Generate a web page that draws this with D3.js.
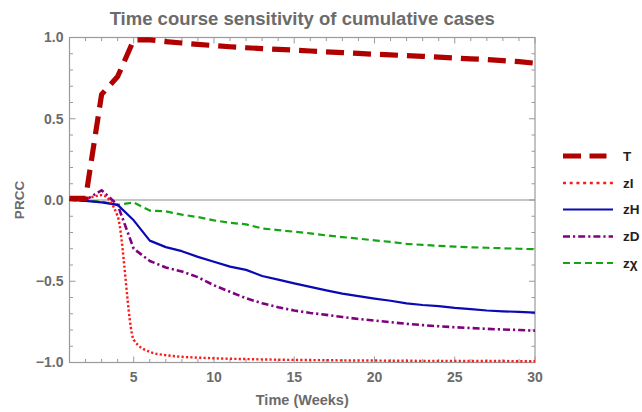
<!DOCTYPE html>
<html>
<head>
<meta charset="utf-8">
<script src="https://cdn.jsdelivr.net/npm/d3@7"></script>
<style>
  html, body { margin: 0; padding: 0; background: #fff; }
  svg { display: block; font-family: "Liberation Sans", Arial, sans-serif; }
</style>
</head>
<body>
<svg id="chart" width="642" height="412"></svg>
<script>
// Weeks 1..30
const weeks = d3.range(1, 31);

// PRCC values per parameter, one per week
const seriesT  = [0.01, 0.01, 0.65, 0.76, 0.985, 0.985, 0.975, 0.966, 0.958, 0.95, 0.943, 0.937, 0.932, 0.927, 0.922, 0.917, 0.912, 0.907, 0.902, 0.897, 0.893, 0.888, 0.884, 0.879, 0.874, 0.869, 0.864, 0.858, 0.851, 0.842];
const seriesZI = [0.01, 0.01, 0.03, -0.1, -0.86, -0.935, -0.955, -0.965, -0.97, -0.974, -0.977, -0.979, -0.981, -0.983, -0.984, -0.985, -0.986, -0.987, -0.988, -0.988, -0.989, -0.989, -0.99, -0.99, -0.99, -0.991, -0.991, -0.991, -0.992, -0.992];
const seriesZH = [0, -0.005, -0.015, -0.03, -0.125, -0.25, -0.29, -0.315, -0.35, -0.38, -0.41, -0.43, -0.468, -0.49, -0.513, -0.535, -0.556, -0.576, -0.592, -0.607, -0.62, -0.636, -0.646, -0.653, -0.664, -0.672, -0.68, -0.685, -0.689, -0.693];
const seriesZD = [0, 0, 0.06, -0.03, -0.3, -0.375, -0.415, -0.44, -0.475, -0.525, -0.565, -0.605, -0.635, -0.66, -0.68, -0.695, -0.707, -0.72, -0.732, -0.742, -0.752, -0.762, -0.77, -0.777, -0.783, -0.788, -0.793, -0.797, -0.8, -0.804];
const seriesZX = [0, -0.005, -0.01, -0.03, -0.015, -0.065, -0.07, -0.09, -0.105, -0.125, -0.14, -0.15, -0.175, -0.185, -0.195, -0.205, -0.218, -0.228, -0.238, -0.248, -0.258, -0.27, -0.276, -0.282, -0.287, -0.291, -0.294, -0.297, -0.3, -0.303];

const seriesNames = ["T", "zI", "zH", "zD", "z\u03c7"];
const xTicks = [5, 10, 15, 20, 25, 30];
const yTicks = [-1, -0.5, 0, 0.5, 1];

const styles = [
  { color: "#b00000", width: 5.2, dash: "18,9",        legendDash: "18,8.5", curve: d3.curveLinear },
  { color: "#ff1a1a", width: 2.4, dash: "2.2,2.2",      legendDash: "3,3.7",  curve: d3.curveMonotoneX },
  { color: "#0a0ab4", width: 2.2, dash: null,           legendDash: null,     curve: d3.curveLinear },
  { color: "#800080", width: 2.6, dash: "7,3,2.2,3",    legendDash: "7,3,2.2,3", curve: d3.curveLinear },
  { color: "#14a514", width: 2.2, dash: "7,4",          legendDash: "7,4",    curve: d3.curveLinear }
];
const allSeries = [seriesT, seriesZI, seriesZH, seriesZD, seriesZX];

const svg = d3.select("#chart");
const plotLeft = 69.5, plotRight = 535, plotTop = 37.5, plotBottom = 362.5;

const x = d3.scaleLinear().domain([1, 30]).range([plotLeft, plotRight]);
const y = d3.scaleLinear().domain([-1, 1]).range([plotBottom, plotTop]);

const frameColor = "#9a9a9a";
const textGray = "#6b6b6b";

// plot frame
svg.append("rect")
  .attr("x", plotLeft).attr("y", plotTop)
  .attr("width", plotRight - plotLeft).attr("height", plotBottom - plotTop)
  .attr("fill", "none").attr("stroke", frameColor).attr("stroke-width", 1.2);

// zero line
svg.append("line")
  .attr("x1", plotLeft).attr("x2", plotRight)
  .attr("y1", y(0)).attr("y2", y(0))
  .attr("stroke", "#8c8c8c").attr("stroke-width", 1.2);

// ticks on all four sides, pointing inward
const tickG = svg.append("g").attr("stroke", frameColor).attr("stroke-width", 1);
d3.range(1, 31).forEach(w => {
  const major = w % 5 === 0;
  const len = major ? 6 : 3.5;
  tickG.append("line").attr("x1", x(w)).attr("x2", x(w)).attr("y1", plotBottom).attr("y2", plotBottom - len);
  tickG.append("line").attr("x1", x(w)).attr("x2", x(w)).attr("y1", plotTop).attr("y2", plotTop + len);
});
d3.range(-10, 11).forEach(k => {
  const v = k / 10;
  const major = k % 5 === 0;
  const len = major ? 6 : 3.5;
  tickG.append("line").attr("x1", plotLeft).attr("x2", plotLeft + len).attr("y1", y(v)).attr("y2", y(v));
  tickG.append("line").attr("x1", plotRight).attr("x2", plotRight - len).attr("y1", y(v)).attr("y2", y(v));
});

// tick labels
const fmtY = v => (v < 0 ? "\u2212" : "") + Math.abs(v).toFixed(1);
svg.append("g").selectAll("text").data(yTicks).join("text")
  .attr("x", plotLeft - 6).attr("y", d => y(d)).attr("dy", "0.35em")
  .attr("text-anchor", "end")
  .attr("font-size", 14).attr("font-weight", "bold").attr("fill", textGray)
  .text(fmtY);
svg.append("g").selectAll("text").data(xTicks).join("text")
  .attr("x", d => x(d)).attr("y", 382)
  .attr("text-anchor", "middle")
  .attr("font-size", 14).attr("font-weight", "bold").attr("fill", textGray)
  .text(d => d);

// axis titles and chart title
svg.append("text")
  .attr("x", (plotLeft + plotRight) / 2).attr("y", 405)
  .attr("text-anchor", "middle")
  .attr("font-size", 14.5).attr("font-weight", "bold").attr("fill", textGray)
  .text("Time (Weeks)");
svg.append("text")
  .attr("transform", `translate(24,${y(0)}) rotate(-90)`)
  .attr("text-anchor", "middle")
  .attr("font-size", 13.5).attr("font-weight", "bold").attr("fill", textGray)
  .text("PRCC");
svg.append("text")
  .attr("x", (plotLeft + plotRight) / 2).attr("y", 25)
  .attr("text-anchor", "middle")
  .attr("font-size", 18.5).attr("font-weight", "bold").attr("fill", textGray)
  .text("Time course sensitivity of cumulative cases");

// series lines, drawn back to front
const order = [4, 3, 2, 1, 0];
const plot = svg.append("g");
order.forEach(i => {
  const st = styles[i];
  const line = d3.line().x((d, j) => x(weeks[j])).y(d => y(d)).curve(st.curve);
  plot.append("path")
    .datum(allSeries[i])
    .attr("d", line)
    .attr("fill", "none")
    .attr("stroke", st.color)
    .attr("stroke-width", st.width)
    .attr("stroke-dasharray", st.dash)
    .attr("stroke-linejoin", "round");
});

// legend
const legend = svg.append("g");
const legendY = [156, 183, 209.5, 236.5, 263];
seriesNames.forEach((name, i) => {
  const st = styles[i];
  legend.append("line")
    .attr("x1", 563).attr("x2", i === 0 ? 606.5 : 613)
    .attr("y1", legendY[i]).attr("y2", legendY[i])
    .attr("stroke", st.color).attr("stroke-width", st.width)
    .attr("stroke-dasharray", st.legendDash);
  legend.append("text")
    .attr("x", 623).attr("y", legendY[i]).attr("dy", "0.35em")
    .attr("font-size", 13.5).attr("font-weight", "bold").attr("fill", "#222")
    .text(name);
});
</script>
</body>
</html>
